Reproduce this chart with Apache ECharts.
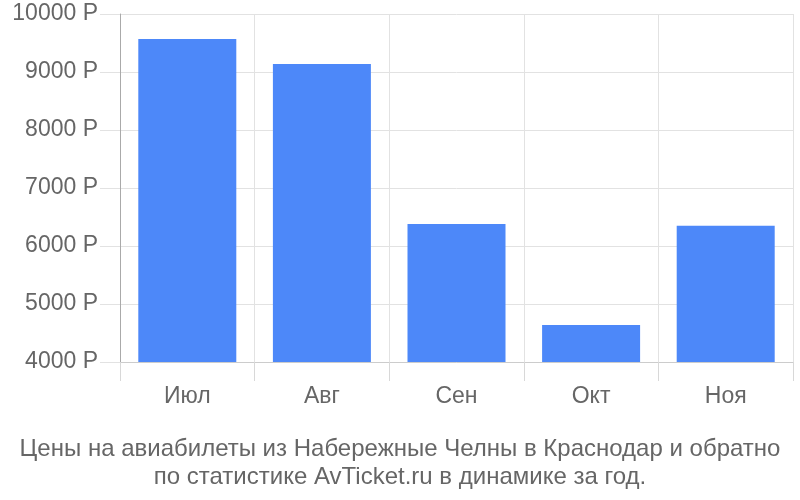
<!DOCTYPE html>
<html><head><meta charset="utf-8">
<script src="https://cdn.jsdelivr.net/npm/echarts@6/dist/echarts.min.js"></script>
<style>html,body{margin:0;padding:0;background:#fff}#c{width:800px;height:500px}</style>
</head><body><div id="c"></div>
<script>
var categories = ['Июл', 'Авг', 'Сен', 'Окт', 'Ноя'];
var prices = [9570, 9140, 6380, 4640, 6350];
var yTicks = [4000, 5000, 6000, 7000, 8000, 9000, 10000];
var currency = 'Р';
var titleLines = ['Цены на авиабилеты из Набережные Челны в Краснодар и обратно', 'по статистике AvTicket.ru в динамике за год.'];

var chart = echarts.init(document.getElementById('c'));
chart.setOption({
  animation: false,
  title: {
    text: titleLines.join('\n'),
    left: 'center', top: 430,
    textStyle: {fontFamily: 'Liberation Sans, Arial', fontSize: 24, fontWeight: 'normal', color: '#666', lineHeight: 28}
  },
  grid: {left: 120, right: 7, top: 14, bottom: 138},
  xAxis: {
    type: 'category', data: categories,
    axisLine: {show: true, lineStyle: {color: '#ccc'}},
    axisTick: {show: true, length: 19, lineStyle: {color: '#d8d8d8'}},
    splitLine: {show: true, lineStyle: {color: '#e2e2e2'}},
    axisLabel: {fontFamily: 'Liberation Sans, Arial', fontSize: 23, color: '#666', margin: 23}
  },
  yAxis: {
    type: 'value', min: yTicks[0], max: yTicks[yTicks.length - 1], interval: 1000,
    axisLine: {show: true, lineStyle: {color: '#aaa'}},
    axisTick: {show: true, length: 20, lineStyle: {color: '#e2e2e2'}},
    splitLine: {show: true, lineStyle: {color: '#e2e2e2'}},
    axisLabel: {fontFamily: 'Liberation Sans, Arial', fontSize: 23, color: '#666', margin: 22,
      formatter: function (v) { return v + ' ' + currency; }}
  },
  series: [{
    type: 'bar', data: prices, barWidth: 98,
    itemStyle: {color: '#4d88f9'}
  }]
});
</script></body></html>
